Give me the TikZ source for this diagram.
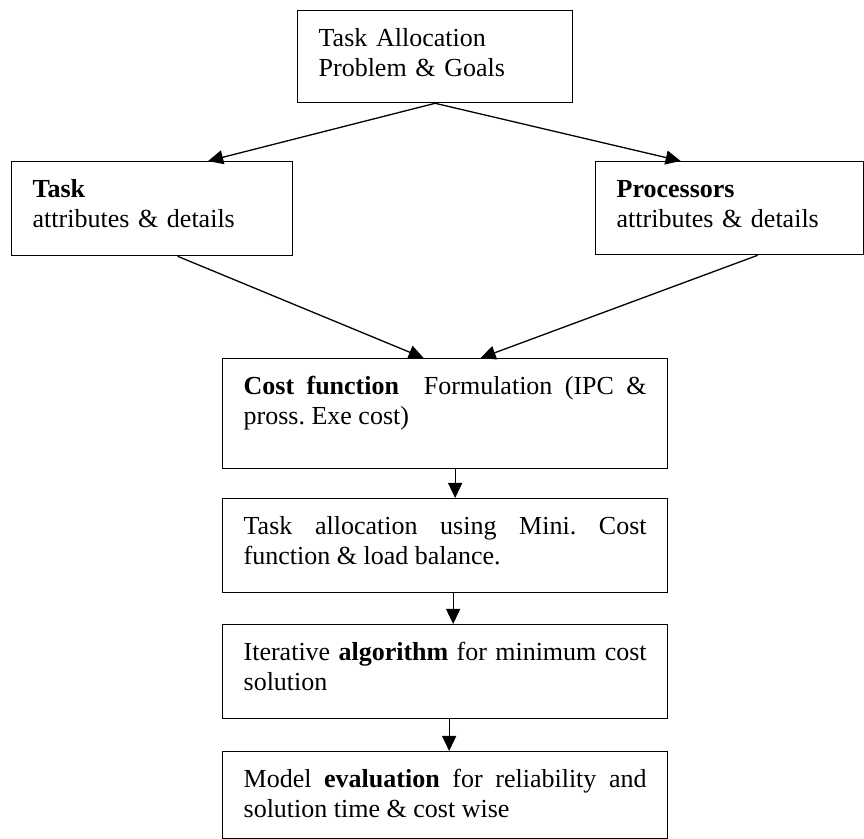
\documentclass[tikz,border=0pt]{standalone}
\usepackage{fontspec}
\setmainfont{Liberation Serif}
\usetikzlibrary{arrows.meta}
\hyphenpenalty=10000
\exhyphenpenalty=10000
\tolerance=10000
\hbadness=10000
\frenchspacing

\begin{document}
\begin{tikzpicture}[x=0.5pt,y=-0.5pt,
  box/.style={draw,line width=0.65pt,anchor=north west,inner xsep=10.5pt,inner ysep=0pt,
    text height=18pt,font=\fontsize{13}{15}\selectfont},
  flow/.style={-{Triangle[length=7.5pt,width=7pt]},line width=0.65pt}]
\useasboundingbox (0,0) rectangle (864,839);
\node[box,text width=116.5pt,text depth=28pt,align=left] (goals) at (297,10) {Task Allocation\\Problem \& Goals};
\node[box,text width=119.5pt,text depth=29pt,align=left] (task) at (11,161) {\textbf{Task}\\attributes \& details};
\node[box,text width=113pt,text depth=28.5pt,align=left] (proc) at (595,161) {\textbf{Processors}\\attributes \& details};
\node[box,text width=201.5pt,text depth=37pt,align=justify] (cost) at (222,358) {\textbf{Cost function}\ \ Formulation (IPC \& pross. Exe cost)};
\node[box,text width=201.5pt,text depth=29pt,align=justify] (alloc) at (222,498) {Task allocation using Mini. Cost function \& load balance.};
\node[box,text width=201.5pt,text depth=29pt,align=justify] (iter) at (222,624) {Iterative \textbf{algorithm} for minimum cost solution};
\node[box,text width=201.5pt,text depth=25.5pt,align=justify] (eval) at (222,751) {Model \textbf{evaluation} for reliability and solution time \& cost wise};
\draw[flow] (goals.south) -- ([xshift=28pt]task.north);
\draw[flow] (goals.south) -- ([xshift=-24.5pt]proc.north);
\draw[flow] ([xshift=12.75pt]task.south) -- ([xshift=-10.75pt]cost.north);
\draw[flow] ([xshift=14pt]proc.south) -- ([xshift=17.75pt]cost.north);
\draw[flow] ([xshift=5pt]cost.south) -- ([xshift=5pt]alloc.north);
\draw[flow] ([xshift=4pt]alloc.south) -- ([xshift=4pt]iter.north);
\draw[flow] ([xshift=2pt]iter.south) -- ([xshift=2pt]eval.north);
\end{tikzpicture}
\end{document}
